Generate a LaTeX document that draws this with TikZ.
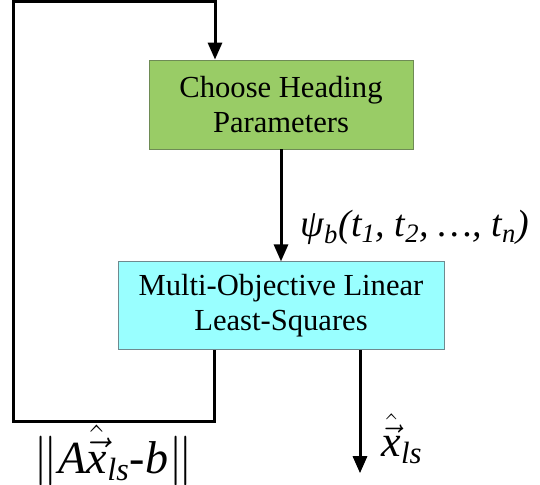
\documentclass[tikz,border=0pt]{standalone}
\usepackage{fontspec}
\setmainfont{Liberation Serif}
\usepackage{amsmath}
\usetikzlibrary{arrows.meta,positioning}
\definecolor{headgreen}{HTML}{99CC66}
\definecolor{headedge}{HTML}{6E8B55}
\definecolor{lsqcyan}{HTML}{99FFFF}
\definecolor{lsqedge}{HTML}{6F8A8F}

\begin{document}
\begin{tikzpicture}[
  x=0.5pt, y=-0.5pt,
  node distance=56pt,
  block/.style={rectangle, thin, align=center, inner sep=0pt, font=\fontsize{15.3}{17.5}\selectfont},
  heading/.style={block, draw=headedge, fill=headgreen, minimum width=132pt, minimum height=44.5pt},
  solver/.style={block, draw=lsqedge, fill=lsqcyan, minimum width=163pt, minimum height=44pt},
  flow/.style={-{Triangle[length=8.5pt,width=7pt]}, line width=1.5pt},
  sig/.style={font=\fontsize{19}{21}\selectfont\itshape, inner sep=0pt}
]
\useasboundingbox (0,0) rectangle (540,485);
\node[heading] (choose) at (281,104.5) {Choose Heading\\Parameters};
\node[solver, below=of choose] (lsq) {Multi-Objective Linear\\Least-Squares};
\coordinate (topleft) at (13,2);
\coordinate (est) at ([xshift=39.5pt,yshift=-61.5pt]lsq.south);
\draw[flow] (choose) -- node[pos=0.7, right=9pt, sig] {ψ\textsubscript{b}(t\textsubscript{1}, t\textsubscript{2}, …, t\textsubscript{n})} (lsq);
\draw[flow] ([xshift=-33.5pt]lsq.south) -- ++(0,71)
  -| node[pos=0.25, anchor=base, yshift=-26pt, sig, font=\fontsize{23}{25}\selectfont\itshape] {$\Vert$A$\hat{\vec{\textit{x}}}$\textsubscript{ls}-b$\Vert$} (topleft)
  -| ([xshift=-33pt]choose.north);
\draw[flow] (lsq.south -| est) -- node[pos=0.72, right=10pt, sig, font=\fontsize{22}{24}\selectfont\itshape] {$\hat{\vec{\textit{x}}}$\textsubscript{ls}} (est);
\end{tikzpicture}
\end{document}
